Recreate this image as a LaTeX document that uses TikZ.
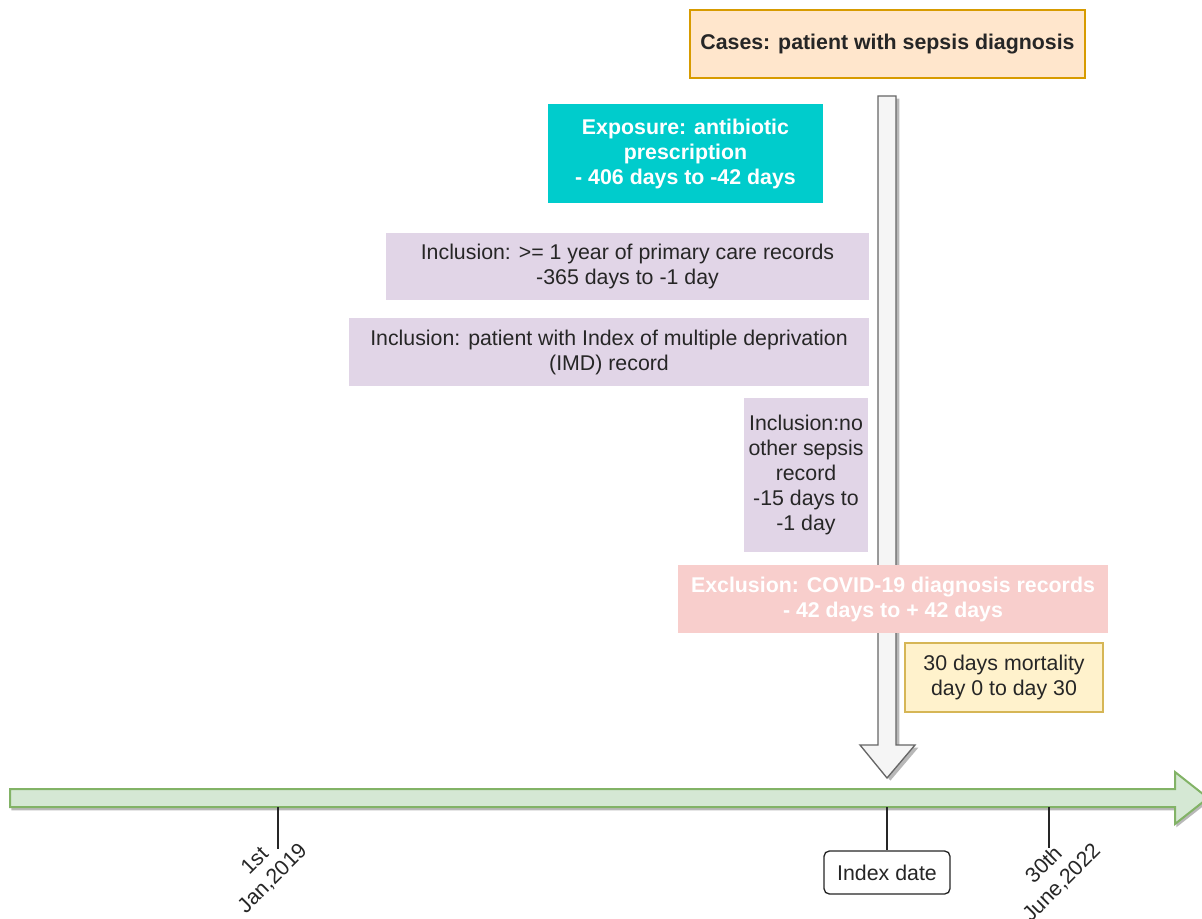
\documentclass[tikz,border=0pt]{standalone}
\usepackage{fontspec}
\setmainfont{Liberation Sans}
\usetikzlibrary{shadows}

\definecolor{casefill}{HTML}{FFE6CC}
\definecolor{casedraw}{HTML}{D79B00}
\definecolor{expfill}{HTML}{00CCCC}
\definecolor{incfill}{HTML}{E1D5E7}
\definecolor{excfill}{HTML}{F8CECC}
\definecolor{mortfill}{HTML}{FFF2CC}
\definecolor{mortdraw}{HTML}{D6B656}
\definecolor{arrowfill}{HTML}{F5F5F5}
\definecolor{arrowdraw}{HTML}{666666}
\definecolor{linefill}{HTML}{D5E8D4}
\definecolor{linedraw}{HTML}{82B366}

\tikzset{every picture/.style={line width=0.75pt}}

\begin{document}
\begin{tikzpicture}[x=0.75pt,y=0.75pt,yscale=-1,xscale=1,
	lbl/.style={inner sep=0pt, align=center, text=black!85, font=\fontsize{16}{18.75}\selectfont},
	boldlbl/.style={lbl, font=\fontsize{16}{18.75}\selectfont\bfseries},
	blockarrow/.style={draw=arrowdraw, fill=arrowfill, line width=1pt, drop shadow={shadow xshift=2.5pt, shadow yshift=-2pt, fill=black!35, opacity=0.8}},
	timearrow/.style={draw=linedraw, fill=linefill, line width=1.5pt, drop shadow={shadow xshift=1pt, shadow yshift=-2.5pt, fill=black!35, opacity=0.8}},
	tick/.style={line width=1.2pt, black!85}]
	\path[use as bounding box] (0,0) rectangle (1202,919);
	
	%Block arrow down to index date
	\draw [blockarrow] (878,96) -- (896,96) -- (896,745) -- (915,745) -- (887,778) -- (860,745) -- (878,745) -- cycle ;
	%Timeline arrow
	\draw [timearrow] (10,789) -- (1175,789) -- (1175,772) -- (1208,798) -- (1175,824) -- (1175,807) -- (10,807) -- cycle ;
	
	% Text Node
	\node (cases) [boldlbl, draw=casedraw, fill=casefill, line width=1pt, minimum width=296.25pt, minimum height=51pt] at (887.5,44) {Cases: patient with sepsis diagnosis};
	% Text Node
	\node (expo) [boldlbl, text=white, fill=expfill, minimum width=206.25pt, minimum height=74.25pt] at (685.5,153.5) {Exposure: antibiotic\\prescription\\- 406 days to -42 days};
	% Text Node
	\node (incyear) [lbl, fill=incfill, minimum width=362.25pt, minimum height=50.25pt] at (627.5,266.5) {Inclusion: >= 1 year of primary care records\\-365 days to -1 day};
	% Text Node
	\node (incimd) [lbl, fill=incfill, minimum width=390pt, minimum height=51pt] at (609,352) {Inclusion: patient with Index of multiple deprivation\\(IMD) record};
	% Text Node
	\node (incsep) [lbl, fill=incfill, minimum width=93pt, minimum height=115.5pt] at (806,475) {Inclusion:no\\other sepsis\\record\\-15 days to\\-1 day};
	% Text Node
	\node (excl) [boldlbl, text=white, fill=excfill, minimum width=322.5pt, minimum height=51pt] at (893,599) {Exclusion: COVID-19 diagnosis records\\- 42 days to + 42 days};
	% Text Node
	\node (mort) [lbl, draw=mortdraw, fill=mortfill, line width=1pt, minimum width=148.5pt, minimum height=51.75pt] at (1004,677.5) {30 days mortality\\day 0 to day 30};
	% Text Node
	\node (idx) [lbl, draw=black!85, fill=white, rounded corners=4pt, line width=1pt, minimum width=94.5pt, minimum height=32.25pt] at (887,872.5) {Index date};
	% Text Node
	\node (start) [lbl, rotate=45] at (264,870) {1st\\Jan,2019};
	% Text Node
	\node (stop) [lbl, rotate=45] at (1053,874) {30th\\June,2022};
	
	%Straight Lines
	\coordinate (tstart) at (278,807);
	\coordinate (tstartend) at (278,849);
	\coordinate (tidx) at (887,807);
	\coordinate (tstop) at (1049,807);
	\coordinate (tstopend) at (1049,848);
	\draw [tick] (tstart) -- (tstartend) ;
	\draw [tick] (tidx) -- (idx.north) ;
	\draw [tick] (tstop) -- (tstopend) ;
	
\end{tikzpicture}
\end{document}
